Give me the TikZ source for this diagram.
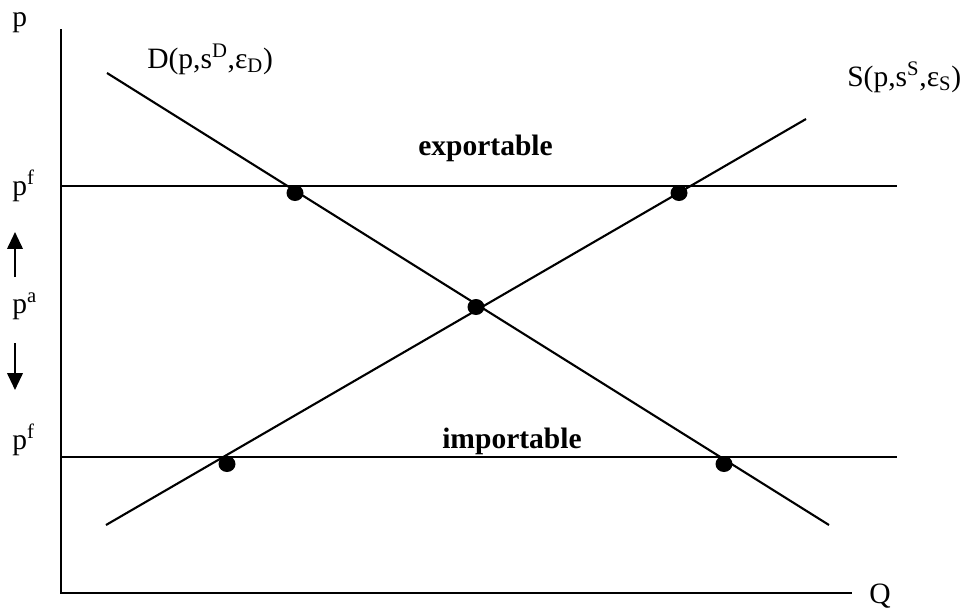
\documentclass[tikz,border=0pt]{standalone}
\usepackage{fontspec}
\setmainfont{Liberation Serif}
\usetikzlibrary{arrows.meta}

\begin{document}
\begin{tikzpicture}[
  x=0.025cm, y=-0.025cm,
  font=\fontsize{21pt}{25pt}\selectfont,
  axis/.style={line width=1.8pt},
  curve/.style={line width=1.5pt},
  pricearrow/.style={line width=1.5pt, -{Triangle[width=11pt, length=12pt]}},
  lbl/.style={anchor=base west, inner sep=0pt},
  dot/.style={fill=black}
]
  \useasboundingbox (0,0) rectangle (962,614);

  % Ejes
  \coordinate (origin) at (61,593);
  \coordinate (ytop) at (61,29);
  \coordinate (xend) at (852,593);
  \draw[axis] (ytop) -- (origin) -- (xend);
  \node[lbl] (plabel) at (12,26) {p};
  \node[lbl] (qlabel) at (869,603) {Q};

  % Precios mundiales
  \coordinate (expL) at (61,186);
  \coordinate (expR) at (897,186);
  \coordinate (impL) at (61,457);
  \coordinate (impR) at (897,457);
  \draw[curve] (expL) -- (expR);
  \draw[curve] (impL) -- (impR);

  % Demanda y oferta
  \coordinate (dTop) at (107,73);
  \coordinate (dBot) at (829,525);
  \coordinate (sBot) at (106,525);
  \coordinate (sTop) at (806,119);
  \draw[curve] (dTop) -- (dBot);
  \draw[curve] (sBot) -- (sTop);
  \node[lbl] (dlabel) at (147,68) {D(p,s\textsuperscript{D},ε\textsubscript{D})};
  \node[lbl] (slabel) at (847,86) {S(p,s\textsuperscript{S},ε\textsubscript{S})};

  \node[lbl, font=\fontsize{21pt}{25pt}\selectfont\bfseries] (exptext) at (418,155) {exportable};
  \node[lbl, font=\fontsize{21pt}{25pt}\selectfont\bfseries] (imptext) at (442,448) {importable};

  % Puntos
  \fill[dot] (295,193) ellipse (8.5 and 8);
  \fill[dot] (679,193) ellipse (8.5 and 8);
  \fill[dot] (476,307) ellipse (8.5 and 8);
  \fill[dot] (227,464) ellipse (8.5 and 8);
  \fill[dot] (724,464) ellipse (8.5 and 8);

  % Precios en el eje
  \node[lbl] (pfup) at (12,195) {p\textsuperscript{f}};
  \node[lbl] (pa) at (12,313) {p\textsuperscript{a}};
  \node[lbl] (pfdown) at (12,449) {p\textsuperscript{f}};
  \coordinate (upS) at (15,277);
  \coordinate (upE) at (15,232);
  \coordinate (downS) at (15,343);
  \coordinate (downE) at (15,390);
  \draw[pricearrow] (upS) -- (upE);
  \draw[pricearrow] (downS) -- (downE);
\end{tikzpicture}
\end{document}
